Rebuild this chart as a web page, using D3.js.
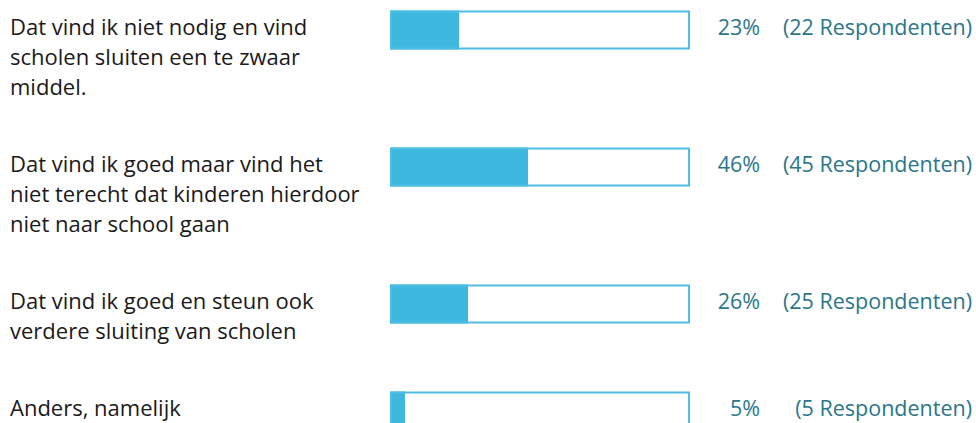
<!DOCTYPE html>
<html>
<head>
<meta charset="utf-8">
<script src="https://cdn.jsdelivr.net/npm/d3@7"></script>
<style>
  html, body { margin: 0; padding: 0; background: #fff; }
  svg { display: block; }
</style>
</head>
<body>
<svg id="chart" width="976" height="423"></svg>
<script>
// Data
const categories = [
  ["Dat vind ik niet nodig en vind", "scholen sluiten een te zwaar", "middel."],
  ["Dat vind ik goed maar vind het", "niet terecht dat kinderen hierdoor", "niet naar school gaan"],
  ["Dat vind ik goed en steun ook", "verdere sluiting van scholen"],
  ["Anders, namelijk"]
];
const percentages = [23, 46, 26, 5];
const respondents = [22, 45, 25, 5];

const svg = d3.select("#chart");
const fontFamily = "'Open Sans', 'Noto Sans', sans-serif";
const barColor = "#3fb8e0";
const strokeColor = "#4dbde4";
const teal = "#2b7689";

const lineH = 30, gap = 47, startY = 10.5;
const barX = 390, barW = 300, barH = 39;
const x = d3.scaleLinear().domain([0, 100]).range([0, barW]);

// compute row tops from label line counts
const tops = [];
let y = startY;
categories.forEach(lines => { tops.push(y); y += lines.length * lineH + gap; });

const rows = svg.selectAll("g.row")
  .data(categories.map((c, i) => ({ lines: c, pct: percentages[i], n: respondents[i], top: tops[i] })))
  .join("g")
  .attr("class", "row")
  .attr("transform", d => `translate(0,${d.top})`);

rows.append("text")
  .attr("x", 10)
  .attr("y", 24.5)
  .attr("font-family", fontFamily)
  .attr("font-size", 22)
  .attr("fill", "#1a1a1a")
  .selectAll("tspan")
  .data(d => d.lines)
  .join("tspan")
  .attr("x", 10)
  .attr("dy", (d, i) => i === 0 ? 0 : lineH)
  .text(d => d);

rows.append("rect")
  .attr("x", barX)
  .attr("y", 0)
  .attr("width", d => x(d.pct))
  .attr("height", barH)
  .attr("fill", barColor);

rows.append("rect")
  .attr("x", barX + 1)
  .attr("y", 1)
  .attr("width", barW - 2)
  .attr("height", barH - 2)
  .attr("fill", "none")
  .attr("stroke", strokeColor)
  .attr("stroke-width", 2);

rows.append("text")
  .attr("x", 760)
  .attr("y", 24.5)
  .attr("text-anchor", "end")
  .attr("font-family", fontFamily)
  .attr("font-size", 21.5)
  .attr("fill", teal)
  .text(d => d.pct + "%");

rows.append("text")
  .attr("x", 972)
  .attr("y", 24.5)
  .attr("text-anchor", "end")
  .attr("font-family", fontFamily)
  .attr("font-size", 21.5)
  .attr("fill", teal)
  .text(d => `(${d.n} Respondenten)`);
</script>
</body>
</html>
